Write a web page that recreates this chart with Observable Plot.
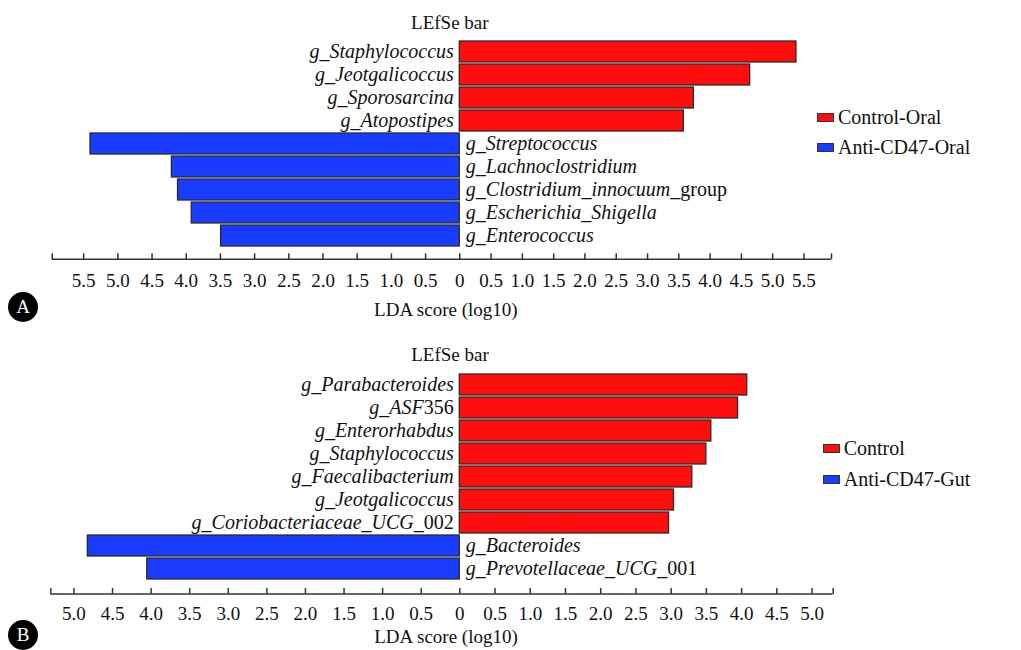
<!DOCTYPE html>
<html><head><meta charset="utf-8">
<script src="https://cdn.jsdelivr.net/npm/d3@7"></script>
<script src="https://cdn.jsdelivr.net/npm/@observablehq/plot@0.6"></script>
<style>
body{margin:0;background:#fff;}
#wrap{position:relative;width:1021px;height:650px;font-family:"Liberation Serif",serif;overflow:hidden;}
.panel{position:absolute;left:0;}
.badge{position:absolute;width:30px;height:30px;border-radius:50%;background:#000;color:#fff;font-size:19px;line-height:30px;text-align:center;}
.legend{position:absolute;font-size:20px;color:#111;}
.legend .item{display:flex;align-items:center;}
.sw{width:15px;height:7px;border:1.5px solid #333;margin-right:4px;}
</style></head>
<body>
<div id="wrap"></div>
<script>
// ---- Panel A data (oral) ----
const oralTaxa = ["g_Staphylococcus","g_Jeotgalicoccus","g_Sporosarcina","g_Atopostipes","g_Streptococcus","g_Lachnoclostridium","g_Clostridium_innocuum_group","g_Escherichia_Shigella","g_Enterococcus"];
const oralPlainSuffix = ["","","","","","","group","",""];
const oralScores = [5.38,4.64,3.74,3.58,5.40,4.21,4.12,3.92,3.49];
const oralGroups = ["Control-Oral","Control-Oral","Control-Oral","Control-Oral","Anti-CD47-Oral","Anti-CD47-Oral","Anti-CD47-Oral","Anti-CD47-Oral","Anti-CD47-Oral"];
const oralLegend = ["Control-Oral","Anti-CD47-Oral"];
const oralTickLabels = [-5.5,-5,-4.5,-4,-3.5,-3,-2.5,-2,-1.5,-1,-0.5,0,0.5,1,1.5,2,2.5,3,3.5,4,4.5,5,5.5];
const oralAxisEnds = [-5.96, 5.94];

// ---- Panel B data (gut) ----
const gutTaxa = ["g_Parabacteroides","g_ASF356","g_Enterorhabdus","g_Staphylococcus","g_Faecalibacterium","g_Jeotgalicoccus","g_Coriobacteriaceae_UCG_002","g_Bacteroides","g_Prevotellaceae_UCG_001"];
const gutPlainSuffix = ["","356","","","","","002","","001"];
const gutScores = [4.08,3.95,3.57,3.50,3.30,3.04,2.97,4.82,4.05];
const gutGroups = ["Control","Control","Control","Control","Control","Control","Control","Anti-CD47-Gut","Anti-CD47-Gut"];
const gutLegend = ["Control","Anti-CD47-Gut"];
const gutTickLabels = [-5,-4.5,-4,-3.5,-3,-2.5,-2,-1.5,-1,-0.5,0,0.5,1,1.5,2,2.5,3,3.5,4,4.5,5];
const gutAxisEnds = [-5.30, 5.30];

const titleText = "LEfSe bar";
const axisLabel = "LDA score (log10)";
const colors = ["#ff0e0e","#1a3cff"];
const FONT = "'Liberation Serif', 'Times New Roman', serif";

const wrap = document.getElementById("wrap");

function makePanel(cfg) {
  const data = cfg.taxa.map((t, i) => ({
    taxon: t,
    plain: cfg.plain[i],
    group: cfg.groups[i],
    value: cfg.groups[i] === cfg.legend[0] ? cfg.scores[i] : -cfg.scores[i]
  }));
  const H = 325;
  const frameBottom = cfg.axisY;
  const frameH = frameBottom - cfg.marginTop;
  const plot = Plot.plot({
    width: 1021,
    height: H,
    marginTop: cfg.marginTop,
    marginBottom: H - frameBottom,
    marginLeft: cfg.xRange[0],
    marginRight: 1021 - cfg.xRange[2],
    style: {fontFamily: FONT, fontSize: "19px", background: "transparent", color: "#111"},
    x: {type: "linear", domain: [cfg.ends[0], 0, cfg.ends[1]], range: cfg.xRange},
    y: {type: "band", domain: cfg.taxa, range: cfg.yRange, paddingInner: 0.1, paddingOuter: 0, axis: null},
    color: {domain: cfg.legend, range: colors},
    marks: [
      Plot.barX(data, {x1: 0, x2: "value", y: "taxon", fill: "group", stroke: "#2a2a2a", strokeWidth: 1.3}),
      Plot.text(data.filter(d => d.value > 0), {x: 0, y: "taxon", text: "taxon", textAnchor: "end", dx: -6, fontStyle: "italic", fontSize: 20, fill: "#111"}),
      Plot.text(data.filter(d => d.value < 0), {x: 0, y: "taxon", text: "taxon", textAnchor: "start", dx: 6, fontStyle: "italic", fontSize: 20, fill: "#111"}),
      Plot.ruleX([...cfg.ticks, ...cfg.ends], {x: d => d, insetTop: frameH - 6, stroke: "#333", strokeWidth: 1.5}),
      Plot.axisX({ticks: cfg.ticks, tickSize: 0, tickPadding: cfg.tickPad, fontSize: 19, label: null,
        tickFormat: d => d === 0 ? "0" : Math.abs(d).toFixed(1)}),
      Plot.text([titleText], {frameAnchor: "top", text: d => d, dx: 8, lineAnchor: "middle", fontSize: 19, fill: "#111"}),
      Plot.text([axisLabel], {frameAnchor: "bottom", text: d => d, dx: 4, dy: cfg.labelDy, lineAnchor: "middle", fontSize: 19, fill: "#111"})
    ]
  });
  // axis baseline from the x scale's range
  const xs = plot.scale("x");
  const r = xs.range;
  d3.select(plot).append("line")
    .attr("x1", Math.min(...r)).attr("x2", Math.max(...r))
    .attr("y1", frameBottom).attr("y2", frameBottom)
    .attr("stroke", "#333").attr("stroke-width", 1.5);
  // mixed italic / upright labels
  const plainMap = new Map(data.map(d => [d.taxon, d.plain]));
  d3.select(plot).selectAll('g[aria-label="text"] text').each(function() {
    const t = this.textContent;
    if (!plainMap.has(t)) return;
    const p = plainMap.get(t);
    if (!p) return;
    const it = t.slice(0, t.length - p.length);
    this.textContent = "";
    d3.select(this).append("tspan").text(it);
    d3.select(this).append("tspan").attr("font-style", "normal").text(p);
  });
  const div = document.createElement("div");
  div.className = "panel";
  div.style.top = cfg.top + "px";
  div.appendChild(plot);
  wrap.appendChild(div);

  // badge
  const b = document.createElement("div");
  b.className = "badge";
  b.textContent = cfg.letter;
  b.style.left = (23 - 15) + "px";
  b.style.top = (cfg.top + cfg.badgeY - 15) + "px";
  wrap.appendChild(b);

  // legend
  const lg = document.createElement("div");
  lg.className = "legend";
  lg.style.left = cfg.legendX + "px";
  lg.style.top = (cfg.top + cfg.legendY) + "px";
  cfg.legend.forEach((g, i) => {
    const it = document.createElement("div");
    it.className = "item";
    it.style.height = cfg.legendStep + "px";
    const sw = document.createElement("div");
    sw.className = "sw";
    sw.style.background = colors[i];
    const tx = document.createElement("span");
    tx.textContent = g;
    it.appendChild(sw); it.appendChild(tx);
    lg.appendChild(it);
  });
  wrap.appendChild(lg);
}

makePanel({
  taxa: oralTaxa, plain: oralPlainSuffix, scores: oralScores, groups: oralGroups, legend: oralLegend,
  ticks: oralTickLabels, ends: oralAxisEnds,
  top: 0, marginTop: 22, axisY: 259.3, xRange: [51.7, 459.3, 831], yRange: [39, 247.3],
  tickPad: 14, labelDy: 50, letter: "A", badgeY: 306.5,
  legendX: 817, legendY: 102, legendStep: 30
});
makePanel({
  taxa: gutTaxa, plain: gutPlainSuffix, scores: gutScores, groups: gutGroups, legend: gutLegend,
  ticks: gutTickLabels, ends: gutAxisEnds,
  top: 325, marginTop: 29.3, axisY: 269, xRange: [50.3, 459.3, 832.7], yRange: [47.3, 255.7],
  tickPad: 12, labelDy: 42.7, letter: "B", badgeY: 310,
  legendX: 822.7, legendY: 108.3, legendStep: 31
});
</script>
</body></html>
